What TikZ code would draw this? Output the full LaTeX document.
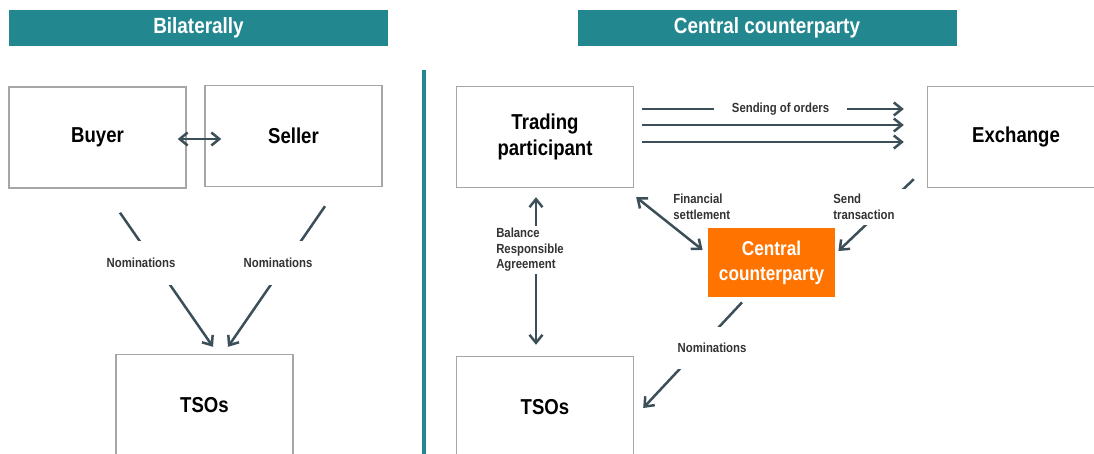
\documentclass[tikz,border=0pt]{standalone}
\usepackage{fontspec}
\setmainfont{Liberation Sans}[FakeStretch=0.86]
\usepackage{xcolor}
\usepackage{tikz}
\usetikzlibrary{arrows.meta,positioning}
\definecolor{teal}{HTML}{23878F}
\definecolor{ccporange}{HTML}{FF7300}
\definecolor{arrgray}{HTML}{3C4E57}
\definecolor{boxgray}{HTML}{A6A6A6}
\definecolor{txtgray}{HTML}{333333}

\begin{document}
\begin{tikzpicture}[x=0.5pt, y=-0.5pt,
  header/.style={fill=teal, text=white, minimum width=189.5pt, minimum height=18pt, inner sep=0pt, font=\fontsize{11}{13}\selectfont\bfseries},
  box/.style={draw=boxgray, line width=0.7pt, align=center, minimum width=88.5pt, minimum height=50.5pt, inner sep=0pt, font=\fontsize{10.8}{13}\selectfont\bfseries},
  ccpbox/.style={fill=ccporange, text=white, align=center, minimum width=63.5pt, minimum height=34.5pt, inner sep=0pt, font=\fontsize{10}{12.5}\selectfont\bfseries},
  arr/.style={-{Straight Barb[length=4pt,width=6.5pt]}, line width=1.25pt, draw=arrgray},
  darr/.style={arr, {Straight Barb[length=4pt,width=6.5pt]}-{Straight Barb[length=4pt,width=6.5pt]}},
  lbl/.style={text=txtgray, align=left, inner sep=1pt, font=\fontsize{6.6}{7.8}\selectfont\bfseries},
  gap/.style={lbl, fill=white}
]
  \useasboundingbox (0,0) rectangle (1094,454);

  % titles and divider
  \node[header] (hbil) at (198.5,28) {Bilaterally};
  \node[header] (hccp) at (767,28) {Central counterparty};
  \draw[teal, line width=1.6pt] (424,70) -- (424,454);

  % bilateral side
  \node[box] (buyer) at (97.5,137.5) {Buyer};
  \node[box] (seller) at (293.5,136) {Seller};
  \node[box] (tsol) at (204.5,405) {TSOs};

  \draw[darr] ([shift={(-9,1.5)}]buyer.east) -- ([shift={(17,3)}]seller.west);
  \draw[arr] ([shift={(22.5,24)}]buyer.south) -- ([shift={(8.5,-7)}]tsol.north);
  \draw[arr] ([shift={(31.5,19)}]seller.south) -- ([shift={(23.5,-7)}]tsol.north);
  \node[gap, inner ysep=8.5pt] (noma) at (141,263) {Nominations};
  \node[gap, inner ysep=8.5pt] (nomb) at (278,263) {Nominations};

  % central counterparty side
  \node[box] (tp) at (545,137) {Trading\\participant};
  \node[box] (exch) at (1016,137) {Exchange};
  \node[box] (tsor) at (545,407) {TSOs};
  \node[ccpbox] (ccp) at (771.5,262.5) {Central\\counterparty};

  \foreach \dy in {-28,-12,5}
    \draw[arr] ([shift={(8,\dy)}]tp.east) -- ([shift={(-23,\dy)}]exch.west);
  \node[gap, inner xsep=9pt] (orders) at (780.5,109) {Sending of orders};

  \draw[darr] ([shift={(-9,9)}]tp.south) -- ([shift={(-9,-11)}]tsor.north);
  \node[gap] (bra) at (530,250) {Balance\\Responsible\\Agreement};

  \draw[darr] ([shift={(2,9)}]tp.south east) -- ([shift={(-5,-12.5)}]ccp.west);
  \node[lbl, anchor=west] (fin) at (671,207) {Financial\\settlement};

  \draw[arr] ([shift={(-13,-9)}]exch.south west) -- ([shift={(3,-11.5)}]ccp.east);
  \node[gap, inner xsep=5.5pt, inner ysep=2.5pt] (sendt) at (864,207) {Send\\transaction};

  \draw[arr] ([shift={(-29.5,5)}]ccp.south) -- ([shift={(9,1)}]tsor.east);
  \node[gap, inner ysep=8pt] (nomc) at (712,348) {Nominations};
\end{tikzpicture}
\end{document}
